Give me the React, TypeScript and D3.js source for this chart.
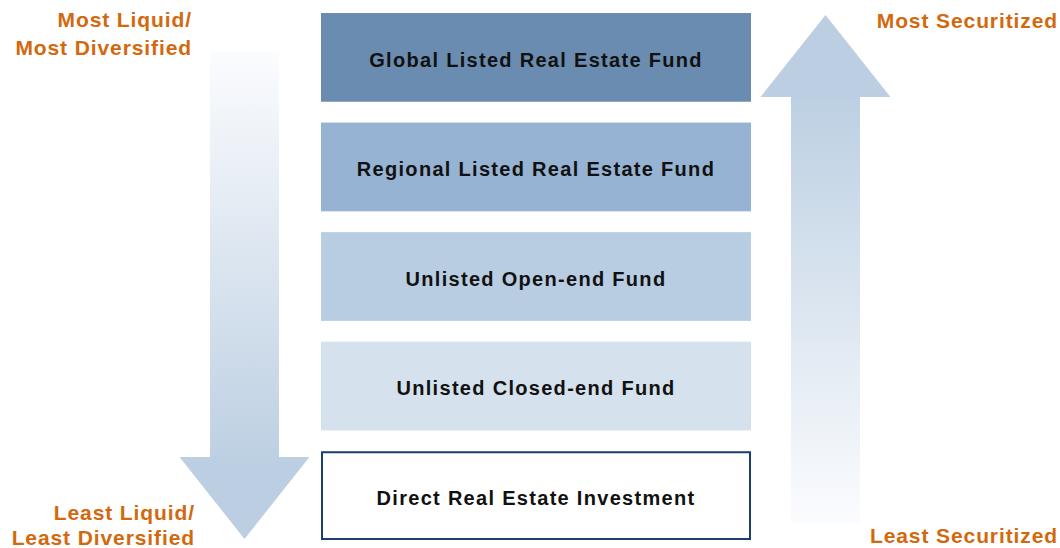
import React, { useEffect, useRef } from 'react';
import * as d3 from 'd3';

const categories = [
  'Global Listed Real Estate Fund',
  'Regional Listed Real Estate Fund',
  'Unlisted Open-end Fund',
  'Unlisted Closed-end Fund',
  'Direct Real Estate Investment',
];
const boxFills = ['#6a8cb0', '#96b3d3', '#b9cde2', '#d5e1ed', '#ffffff'];
const leftLabels = [['Most Liquid/', 'Most Diversified'], ['Least Liquid/', 'Least Diversified']];
const rightLabels = ['Most Securitized', 'Least Securitized'];

const App = () => {
  const ref = useRef<SVGSVGElement>(null);
  const width = 1060;
  const height = 548;

  useEffect(() => {
    const svg = d3.select(ref.current);
    svg.selectAll('*').remove();

    const y = d3.scaleBand().domain(categories).range([13, 540]).paddingInner(0.19);
    const orange = '#d2690e';
    const font = 'Liberation Sans, Arial, sans-serif';

    const defs = svg.append('defs');
    const gDown = defs.append('linearGradient').attr('id', 'gDown')
      .attr('x1', 0).attr('y1', 0).attr('x2', 0).attr('y2', 1);
    gDown.append('stop').attr('offset', '0%').attr('stop-color', '#fbfcfe');
    gDown.append('stop').attr('offset', '85%').attr('stop-color', '#bccfe2');
    const gUp = defs.append('linearGradient').attr('id', 'gUp')
      .attr('x1', 0).attr('y1', 1).attr('x2', 0).attr('y2', 0);
    gUp.append('stop').attr('offset', '0%').attr('stop-color', '#fbfcfe');
    gUp.append('stop').attr('offset', '85%').attr('stop-color', '#bccfe2');

    // arrow outline: shaft then triangular head
    const arrow = (cx: number, tail: number, tip: number, shaftW: number, headW: number, headH: number) => {
      const dir = tip > tail ? 1 : -1;
      const hb = tip - dir * headH;
      return `M${cx - shaftW / 2},${tail}L${cx + shaftW / 2},${tail}L${cx + shaftW / 2},${hb}L${cx + headW / 2},${hb}L${cx},${tip}L${cx - headW / 2},${hb}L${cx - shaftW / 2},${hb}Z`;
    };
    svg.append('path').attr('d', arrow(244.5, 52, 539, 69, 130, 82)).attr('fill', 'url(#gDown)');
    svg.append('path').attr('d', arrow(825.5, 523, 15, 69, 130, 82)).attr('fill', 'url(#gUp)');

    // Boxes
    categories.forEach((c, i) => {
      const last = i === categories.length - 1;
      svg.append('rect')
        .attr('x', last ? 322 : 321)
        .attr('y', (y(c) as number) + (last ? 1 : 0))
        .attr('width', last ? 428 : 430)
        .attr('height', y.bandwidth() - (last ? 2 : 0))
        .attr('fill', boxFills[i])
        .attr('stroke', last ? '#1d3d6e' : 'none')
        .attr('stroke-width', 2);
      svg.append('text')
        .attr('x', 536)
        .attr('y', (y(c) as number) + y.bandwidth() / 2)
        .attr('dy', '0.47em')
        .attr('text-anchor', 'middle')
        .attr('font-family', font)
        .attr('font-weight', 'bold')
        .attr('font-size', 20)
        .attr('letter-spacing', 1.3)
        .attr('fill', '#111')
        .text(c);
    });

    const label = (x: number, yy: number, t: string) =>
      svg.append('text')
        .attr('x', x).attr('y', yy)
        .attr('text-anchor', 'end')
        .attr('font-family', font)
        .attr('font-weight', 'bold')
        .attr('font-size', 21)
        .attr('letter-spacing', 0.9)
        .attr('fill', orange)
        .text(t);

    label(192, 27, leftLabels[0][0]);
    label(192, 55, leftLabels[0][1]);
    label(195, 520, leftLabels[1][0]);
    label(195, 545, leftLabels[1][1]);
    label(1058, 28, rightLabels[0]);
    label(1058, 543, rightLabels[1]);
  }, []);

  return (
    <svg
      ref={ref}
      width={width}
      height={height}
      style={{ position: 'absolute', left: 0, top: 0, background: '#fff' }}
    />
  );
};

export default App;
